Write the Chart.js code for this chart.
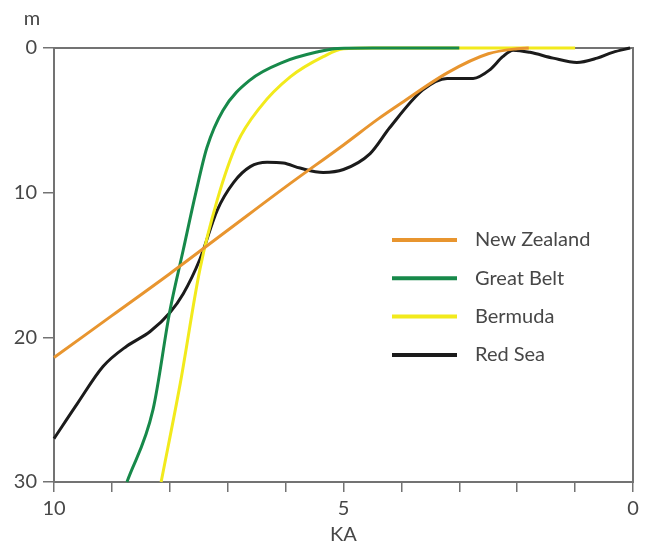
<!DOCTYPE html>
<html>
<head>
<meta charset="utf-8">
<script src="https://cdn.jsdelivr.net/npm/chart.js@4"></script>
<style>
  body { margin: 0; background: #fff; }
  #wrap { width: 649px; height: 547px; }
</style>
</head>
<body>
<div id="wrap"><canvas id="seaChart" width="649" height="547"></canvas></div>
<script>
// sea level curves: age (KA) and depth (m)
const nzKa    = [10, 9, 8, 7, 6, 5, 4.4, 4, 3.2, 2.5, 2, 1.8];
const nzDepth = [21.4, 18.5, 15.6, 12.6, 9.6, 6.7, 4.9, 3.8, 1.7, 0.4, 0.05, 0];

const gbKa    = [8.74, 8.29, 8.0, 7.77, 7.55, 7.36, 7.08, 6.61, 6.04, 5.46, 5.1, 4.5, 3];
const gbDepth = [30, 25, 18.2, 14.0, 10.0, 6.9, 4.3, 2.2, 0.97, 0.28, 0.03, 0, 0];

const bmKa    = [8.15, 7.82, 7.48, 7.18, 6.84, 6.44, 5.92, 5.35, 5.0, 4.5, 1];
const bmDepth = [30, 23.2, 15.3, 10.5, 6.6, 4.1, 2.0, 0.6, 0.05, 0, 0];

const rsKa    = [10, 9.6, 9.15, 8.74, 8.34, 8.0, 7.77, 7.48, 7.18, 6.9, 6.61, 6.32, 6.04, 5.75, 5.35, 5.0, 4.54, 4.2, 3.63, 3.21, 2.76, 2.47, 2.25, 2.07, 1.78, 1.38, 0.97, 0.62, 0.35, 0.05];
const rsDepth = [27.0, 24.6, 22.0, 20.6, 19.6, 18.3, 17.0, 14.6, 11.2, 9.3, 8.2, 7.9, 7.95, 8.3, 8.6, 8.4, 7.3, 5.5, 2.9, 2.1, 2.1, 1.5, 0.6, 0.15, 0.3, 0.7, 1.0, 0.7, 0.3, 0];

const seriesNames  = ['New Zealand', 'Great Belt', 'Bermuda', 'Red Sea'];
const seriesColors = ['#e8952f', '#17894a', '#f2ea1c', '#1b1b1b'];
const xLabels = [10, 5, 0];
const yTicks = [0, 10, 20, 30];

const pts = (ka, d) => ka.map((k, i) => ({ x: k, y: d[i] }));
const allData = [pts(nzKa, nzDepth), pts(gbKa, gbDepth), pts(bmKa, bmDepth), pts(rsKa, rsDepth)];

const AXIS = '#737373';
const TEXT = '#474747';
const FONT = 'Lato';

// box around plot + "m" label
const frame = {
  id: 'frame',
  beforeDatasetsDraw(chart) {
    const { ctx, chartArea: a } = chart;
    ctx.save();
    ctx.strokeStyle = AXIS;
    ctx.lineWidth = 2;
    ctx.strokeRect(a.left, a.top, a.right - a.left, a.bottom - a.top);
    ctx.fillStyle = TEXT;
    ctx.font = '20px ' + FONT;
    ctx.textAlign = 'center';
    ctx.textBaseline = 'middle';
    ctx.fillText('m', 32, 19);
    ctx.restore();
  }
};

// legend inside the plot
const innerLegend = {
  id: 'innerLegend',
  afterDatasetsDraw(chart) {
    const ctx = chart.ctx;
    ctx.save();
    ctx.font = '20px ' + FONT;
    ctx.textBaseline = 'middle';
    chart.data.datasets.forEach((ds, i) => {
      const y = 240 + i * 38.3;
      ctx.strokeStyle = ds.borderColor;
      ctx.lineWidth = 4;
      ctx.beginPath();
      ctx.moveTo(392, y);
      ctx.lineTo(457, y);
      ctx.stroke();
      ctx.fillStyle = TEXT;
      ctx.fillText(ds.label, 475, y);
    });
    ctx.restore();
  }
};

new Chart(document.getElementById('seaChart'), {
  type: 'line',
  data: {
    datasets: seriesNames.map((name, i) => ({
      label: name,
      data: allData[i],
      borderColor: seriesColors[i],
      borderWidth: 3,
      pointRadius: 0,
      cubicInterpolationMode: 'monotone',
      fill: false,
      clip: 4
    }))
  },
  options: {
    responsive: false,
    animation: false,
    layout: { padding: { top: 48, right: 16, left: 0, bottom: 0 } },
    plugins: { legend: { display: false }, tooltip: { enabled: false } },
    scales: {
      x: {
        type: 'linear',
        reverse: true,
        min: 0,
        max: 10,
        afterFit: s => { s.height = 65; },
        afterBuildTicks: s => { s.ticks = Array.from({ length: 11 }, (_, i) => ({ value: i })); },
        ticks: {
          autoSkip: false,
          maxRotation: 0,
          padding: 5,
          color: TEXT,
          font: { family: FONT, size: 20 },
          callback: v => xLabels.includes(v) ? String(v) : ''
        },
        grid: { display: true, drawOnChartArea: false, tickLength: 10, color: AXIS, lineWidth: 1.5 },
        border: { display: true, color: AXIS, width: 2 },
        title: { display: true, text: 'KA', color: TEXT, font: { family: FONT, size: 20 }, padding: { top: 2, bottom: 0 } }
      },
      y: {
        type: 'linear',
        reverse: true,
        min: 0,
        max: 30,
        afterFit: s => { s.width = 54; },
        afterBuildTicks: s => { s.ticks = yTicks.map(v => ({ value: v })); },
        ticks: {
          padding: 6,
          color: TEXT,
          font: { family: FONT, size: 20 }
        },
        grid: { display: true, drawOnChartArea: false, tickLength: 11, color: AXIS, lineWidth: 1.5 },
        border: { display: true, color: AXIS, width: 2 }
      }
    }
  },
  plugins: [frame, innerLegend]
});
</script>
</body>
</html>
